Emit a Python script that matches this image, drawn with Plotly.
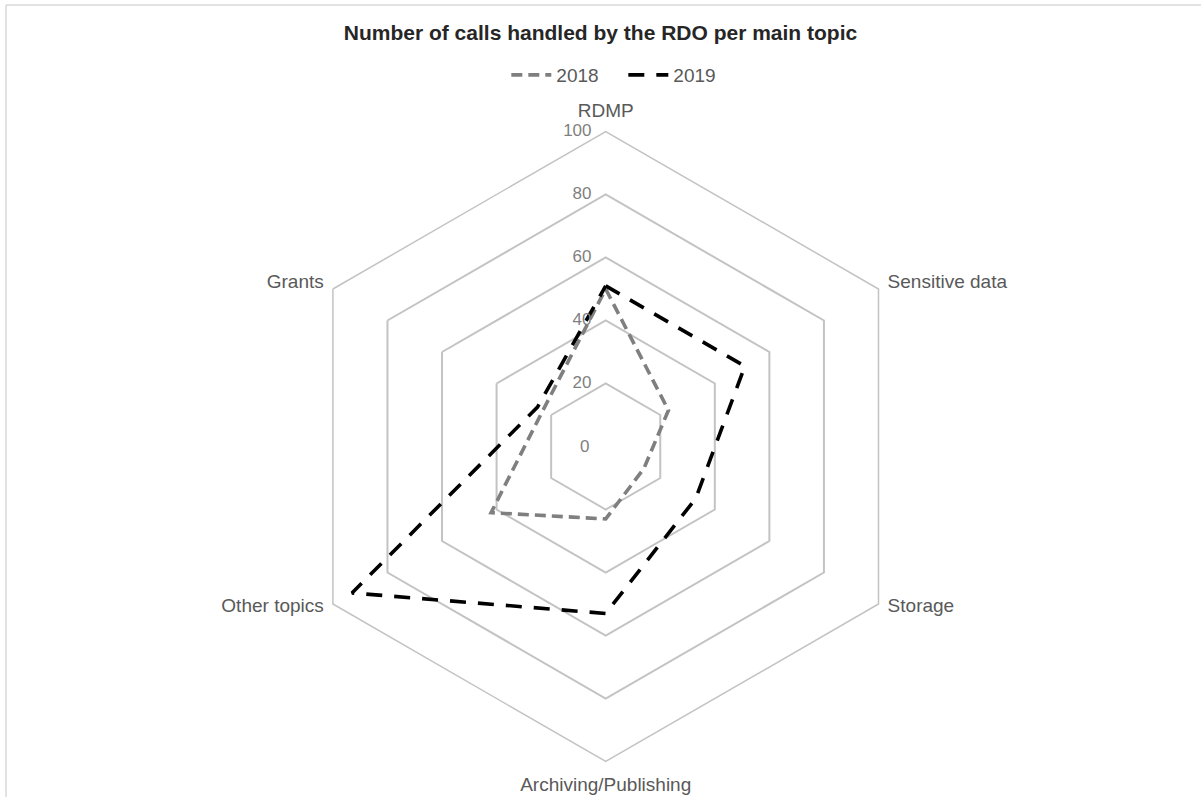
import plotly.graph_objects as go

# Topics in clockwise order, starting at the top
topics = ["RDMP", "Sensitive data", "Storage", "Archiving/Publishing", "Other topics", "Grants"]
calls_2018 = [50, 23, 14, 23, 42, 23]
calls_2019 = [51, 51, 33, 53, 93, 25]
radial_ticks = [0, 20, 40, 60, 80, 100]

W, H = 1201, 797
cx, cy, R = 605.7, 446.5, 315.0

FONT = "Liberation Sans, Arial, sans-serif"
GRID = "#c3c3c3"
TICK_COLOR = "#7f7f7f"
NBSP = "\u00a0"


def closed(seq):
    return list(seq) + [seq[0]]


# Lower side labels get two blank trailing lines, which lifts them nearer their corners
topic_labels = [
    t + f"<br>{NBSP}<br>{NBSP}" if t in ("Storage", "Other topics") else t
    for t in topics
]

fig = go.Figure()
fig.add_trace(go.Scatterpolar(
    r=closed(calls_2018), theta=closed(topics), name="2018", mode="lines",
    line=dict(color="#7f7f7f", width=3.6, dash="11px,6px"),
))
fig.add_trace(go.Scatterpolar(
    r=closed(calls_2019), theta=closed(topics), name="2019", mode="lines",
    line=dict(color="#000000", width=3.6, dash="16px,12px"),
))

# Radial scale values, written beside the RDMP spoke on its left
outer_ticks = [v for v in radial_ticks if v > 0]
fig.add_trace(go.Scatterpolar(
    r=outer_ticks, theta=[topics[0]] * len(outer_ticks), mode="text",
    text=[f"{v}{NBSP * 3}" for v in outer_ticks], textposition="middle left",
    textfont=dict(size=17, color=TICK_COLOR, family=FONT),
    cliponaxis=False, showlegend=False, hoverinfo="skip",
))

# The zero value sits at the pole, just left of the centre
zero_label = dict(
    text=str(radial_ticks[0]), xref="paper", yref="paper",
    x=cx / W, y=(H - cy) / H, xanchor="right", yanchor="middle", xshift=-15,
    showarrow=False, font=dict(size=17, color=TICK_COLOR, family=FONT),
)

fig.update_layout(
    width=W, height=H,
    margin=dict(l=0, r=0, t=0, b=0),
    paper_bgcolor="white",
    font=dict(family=FONT, color="#595959"),
    title=dict(
        text="<b>Number of calls handled by the RDO per main topic</b>",
        x=0.5, xanchor="center", y=1 - 33 / H, yanchor="middle",
        font=dict(size=21, color="#262626", family=FONT),
    ),
    legend=dict(
        orientation="h", x=0.519, xanchor="center", y=1 - 75 / H, yanchor="middle",
        font=dict(size=19, color="#595959"), itemwidth=40,
        entrywidth=62, entrywidthmode="pixels",
    ),
    polar=dict(
        domain=dict(x=[(cx - R) / W, (cx + R) / W], y=[(H - cy - R) / H, (H - cy + R) / H]),
        bgcolor="white",
        gridshape="linear",
        radialaxis=dict(
            range=[0, 100], tickvals=radial_ticks, angle=90,
            showticklabels=False, showline=False, ticks="",
            gridcolor=GRID, gridwidth=1.5,
        ),
        angularaxis=dict(
            direction="clockwise", rotation=90, showgrid=False,
            showline=True, linecolor=GRID, linewidth=1.5,
            tickmode="array", tickvals=topics, ticktext=topic_labels,
            ticks="outside", ticklen=6, tickcolor="rgba(0,0,0,0)",
            tickfont=dict(size=19, color="#595959"),
        ),
    ),
    annotations=[zero_label],
    shapes=[
        dict(type="line", xref="paper", yref="paper", x0=6 / W, x1=6 / W, y0=0, y1=1 - 5 / H,
             line=dict(color="#d9d9d9", width=1.5)),
        dict(type="line", xref="paper", yref="paper", x0=6 / W, x1=1, y0=1 - 5 / H, y1=1 - 5 / H,
             line=dict(color="#d9d9d9", width=1.5)),
    ],
)

fig.write_html("out.html")
